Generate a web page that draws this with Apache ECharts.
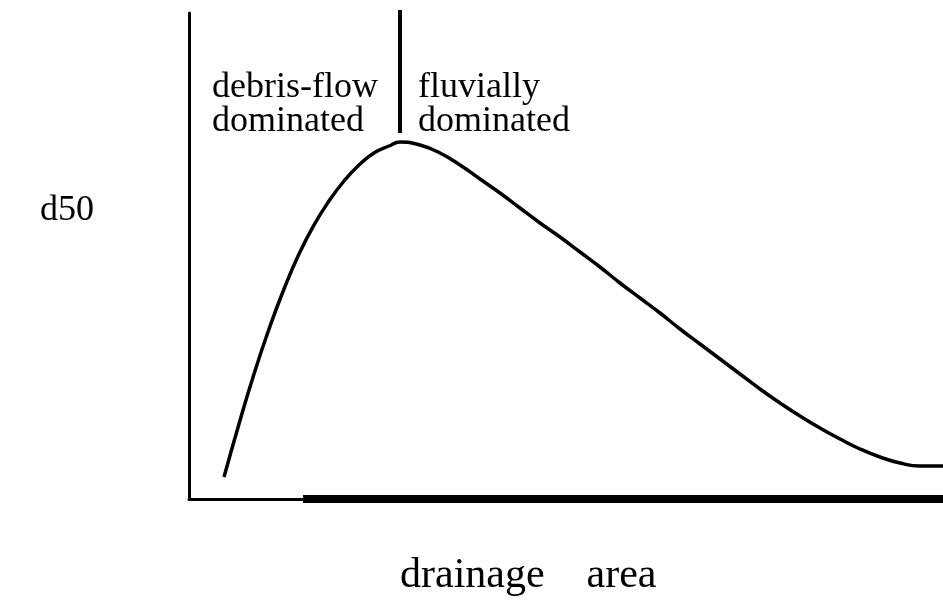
<!DOCTYPE html>
<html>
<head>
<meta charset="utf-8">
<script src="https://cdn.jsdelivr.net/npm/echarts@6/dist/echarts.min.js"></script>
<style>
  html, body { margin: 0; padding: 0; background: #fff; }
  #main { width: 943px; height: 607px; }
</style>
</head>
<body>
<div id="main"></div>
<script>
// drainage area (arbitrary units) vs d50 (arbitrary units)
var areaVals = [35, 50, 65, 80, 95, 110, 125, 140, 155, 170, 185, 200, 211, 231, 251, 271, 291, 311, 331, 351, 371, 391, 411, 431, 451, 471, 491, 511, 531, 551, 571, 591, 611, 631, 651, 671, 691, 711, 731, 754];
var d50Vals  = [22, 75, 125, 170, 210, 245, 274, 298, 318, 334, 346, 353, 357, 354, 346, 334, 320, 306, 291, 276, 262, 247, 232, 216, 201, 186, 170, 155, 140, 125, 110, 96, 83, 71, 60, 50, 42, 36, 33, 33];

// boundary between the two regimes
var boundaryX = [211, 211];
var boundaryY = [366, 489];

var leftLabel = ['debris-flow', 'dominated'];
var rightLabel = ['fluvially', 'dominated'];

var curve = [];
for (var i = 0; i < areaVals.length; i++) {
    curve.push([areaVals[i], d50Vals[i]]);
}
var boundary = [];
for (var j = 0; j < boundaryX.length; j++) {
    boundary.push([boundaryX[j], boundaryY[j]]);
}

var serif = '"Liberation Serif", "DejaVu Serif", serif';

var myChart = echarts.init(document.getElementById('main'));
var option = {
    animation: false,
    backgroundColor: '#ffffff',
    grid: { left: 189, right: 0, top: 13, bottom: 108 },
    xAxis: {
        type: 'value',
        min: 0,
        max: 754,
        axisLine: { show: true, lineStyle: { color: '#000', width: 3 } },
        axisTick: { show: false },
        axisLabel: { show: false },
        splitLine: { show: false }
    },
    yAxis: {
        type: 'value',
        min: 0,
        max: 486,
        axisLine: { show: true, lineStyle: { color: '#000', width: 3 } },
        axisTick: { show: false },
        axisLabel: { show: false },
        splitLine: { show: false }
    },
    series: [{
        type: 'line',
        data: curve,
        smooth: 0.5,
        showSymbol: false,
        lineStyle: { color: '#000', width: 3.5 }
    }, {
        type: 'line',
        data: boundary,
        clip: false,
        showSymbol: false,
        lineStyle: { color: '#000', width: 4 }
    }],
    graphic: [
        // scanned x-axis is heavier from here on
        { type: 'rect', shape: { x: 303, y: 495, width: 640, height: 8 }, style: { fill: '#000' }, silent: true },
        { type: 'text', x: 212, y: 88, style: { text: leftLabel[0], font: '36px ' + serif, fill: '#000', textVerticalAlign: 'middle' } },
        { type: 'text', x: 212, y: 122, style: { text: leftLabel[1], font: '36px ' + serif, fill: '#000', textVerticalAlign: 'middle' } },
        { type: 'text', x: 418, y: 88, style: { text: rightLabel[0], font: '36px ' + serif, fill: '#000', textVerticalAlign: 'middle' } },
        { type: 'text', x: 418, y: 122, style: { text: rightLabel[1], font: '36px ' + serif, fill: '#000', textVerticalAlign: 'middle' } },
        { type: 'text', x: 40, y: 211, style: { text: 'd50', font: '36px ' + serif, fill: '#000', textVerticalAlign: 'middle' } },
        { type: 'text', x: 400, y: 576, style: { text: 'drainage    area', font: '42px ' + serif, fill: '#000', textVerticalAlign: 'middle' } }
    ]
};
myChart.setOption(option);
</script>
</body>
</html>
